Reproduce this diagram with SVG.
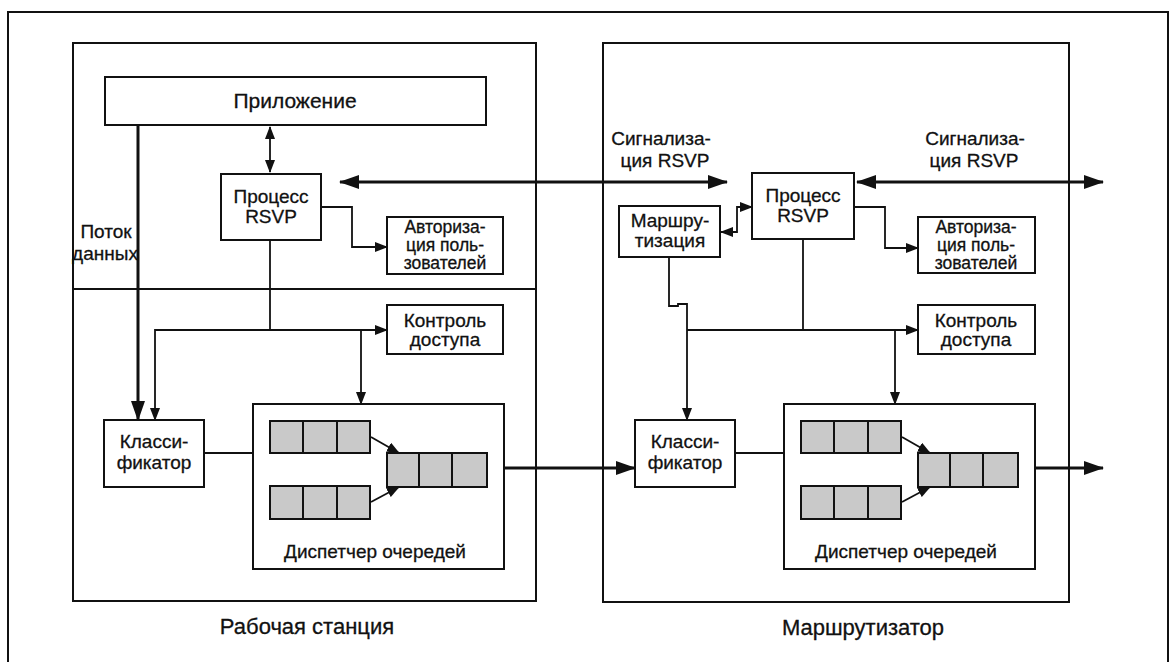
<svg xmlns="http://www.w3.org/2000/svg" width="1170" height="662" viewBox="0 0 1170 662">
<defs>
<style>
.box{fill:#fff;stroke:#111;stroke-width:2}
.frame{fill:none;stroke:#111;stroke-width:2}
.cell{fill:#c9c9c9;stroke:#111;stroke-width:2}
.t{font-family:"Liberation Sans",Arial,sans-serif;font-size:19px;fill:#111;stroke:#111;stroke-width:0.3;text-anchor:middle}
.sm3{font-size:17.5px}
.big{font-size:21px}
.lbl{font-size:22px}
.ln{fill:none;stroke:#111;stroke-width:1.8}
.thick{fill:none;stroke:#111;stroke-width:3}
.sa{marker-end:url(#sm)}
.ba{marker-end:url(#bg)}
</style>
<marker id="bg" markerUnits="userSpaceOnUse" markerWidth="20" markerHeight="14" refX="19" refY="7" orient="auto-start-reverse"><path d="M0,0 L20,7 L0,14 Z" fill="#111"/></marker>
<marker id="sm" markerUnits="userSpaceOnUse" markerWidth="13" markerHeight="10" refX="12" refY="5" orient="auto-start-reverse"><path d="M0,0 L13,5 L0,10 Z" fill="#111"/></marker>
</defs>
<rect x="0" y="0" width="1170" height="662" fill="#fff"/>
<rect class="frame" x="8" y="12" width="1160" height="680"/>

<g id="workstation">
<rect class="frame" x="73" y="43" width="463" height="558"/>
<line x1="73" y1="289" x2="536" y2="289" stroke="#111" stroke-width="2.2"/>
<text class="t lbl" x="307" y="634">Рабочая станция</text>
</g>
<g id="router">
<rect class="frame" x="603" y="43" width="466" height="559"/>
<text class="t lbl" x="863" y="635">Маршрутизатор</text>
</g>

<g id="ws-app"><rect class="box" x="105" y="77" width="381" height="48"/><text class="t big" x="295" y="108">Приложение</text></g>
<g id="ws-rsvp"><rect class="box" x="221" y="174" width="100" height="66"/><text class="t" x="271" y="203">Процесс</text><text class="t" x="271" y="223">RSVP</text></g>
<g id="ws-auth"><rect class="box" x="387" y="217" width="116" height="57"/><text class="t sm3" x="445" y="233">Авториза-</text><text class="t sm3" x="445" y="251">ция поль-</text><text class="t sm3" x="445" y="269">зователей</text></g>
<g id="ws-adm"><rect class="box" x="387" y="305" width="116" height="49"/><text class="t" x="445" y="327">Контроль</text><text class="t" x="445" y="346">доступа</text></g>
<g id="ws-class"><rect class="box" x="104" y="420" width="100" height="67"/><text class="t" x="154" y="448">Класси-</text><text class="t" x="154" y="469">фикатор</text></g>
<g id="ws-sched">
<rect class="box" x="253" y="404" width="251" height="165"/>
<rect class="cell" x="270" y="421" width="33" height="32"/><rect class="cell" x="303" y="421" width="34" height="32"/><rect class="cell" x="337" y="421" width="33" height="32"/>
<rect class="cell" x="270" y="486" width="33" height="33"/><rect class="cell" x="303" y="486" width="34" height="33"/><rect class="cell" x="337" y="486" width="33" height="33"/>
<rect class="cell" x="387" y="453" width="32" height="34"/><rect class="cell" x="419" y="453" width="33" height="34"/><rect class="cell" x="452" y="453" width="35" height="34"/>
<text class="t" x="375" y="558">Диспетчер очередей</text>
</g>
<g id="ws-flow-label"><text class="t" x="106" y="238">Поток</text><text class="t" x="105" y="260">данных</text></g>

<g id="r-sig1"><text class="t" x="661" y="145">Сигнализа-</text><text class="t" x="665" y="167">ция RSVP</text></g>
<g id="r-sig2"><text class="t" x="975" y="145">Сигнализа-</text><text class="t" x="974" y="167">ция RSVP</text></g>
<g id="r-route"><rect class="box" x="619" y="206" width="101" height="51"/><text class="t" x="670" y="227">Маршру-</text><text class="t" x="670" y="247">тизация</text></g>
<g id="r-rsvp"><rect class="box" x="752" y="173" width="102" height="66"/><text class="t" x="803" y="202">Процесс</text><text class="t" x="803" y="222">RSVP</text></g>
<g id="r-auth"><rect class="box" x="918" y="217" width="117" height="56"/><text class="t sm3" x="976" y="233">Авториза-</text><text class="t sm3" x="976" y="251">ция поль-</text><text class="t sm3" x="976" y="269">зователей</text></g>
<g id="r-adm"><rect class="box" x="918" y="305" width="117" height="49"/><text class="t" x="976" y="327">Контроль</text><text class="t" x="976" y="346">доступа</text></g>
<g id="r-class"><rect class="box" x="635" y="420" width="100" height="67"/><text class="t" x="685" y="448">Класси-</text><text class="t" x="685" y="469">фикатор</text></g>
<g id="r-sched">
<rect class="box" x="784" y="404" width="251" height="165"/>
<rect class="cell" x="801" y="421" width="33" height="32"/><rect class="cell" x="834" y="421" width="34" height="32"/><rect class="cell" x="868" y="421" width="33" height="32"/>
<rect class="cell" x="801" y="486" width="33" height="33"/><rect class="cell" x="834" y="486" width="34" height="33"/><rect class="cell" x="868" y="486" width="33" height="33"/>
<rect class="cell" x="918" y="453" width="32" height="34"/><rect class="cell" x="950" y="453" width="33" height="34"/><rect class="cell" x="983" y="453" width="35" height="34"/>
<text class="t" x="906" y="558">Диспетчер очередей</text>
</g>

<g id="connectors">
<path class="ln" d="M270,127 V172" marker-start="url(#sm)" marker-end="url(#sm)"/>
<path class="thick" d="M340,182 H727" marker-start="url(#bg)" marker-end="url(#bg)"/>
<path class="ln sa" d="M321,207 H352 V247 H387"/>
<path class="thick ba" d="M138,125 V420"/>
<path class="ln" d="M270,240 V330"/>
<path class="ln" d="M155,420 V330 H387" marker-start="url(#sm)" marker-end="url(#sm)"/>
<path class="ln sa" d="M361,330 V404"/>
<path class="ln" d="M204,453 H253" stroke-width="2.2"/>
<path class="ln sa" d="M371,437 L399,453"/>
<path class="ln sa" d="M371,502 L399,487"/>
<path class="thick ba" d="M504,468 H635"/>

<path class="thick" d="M857,182 H1103" marker-start="url(#bg)" marker-end="url(#bg)"/>
<path class="ln" d="M721,232 H737 V207 H752" marker-start="url(#sm)" marker-end="url(#sm)"/>
<path class="ln sa" d="M854,207 H885 V248 H918"/>
<path class="ln sa" d="M669,257 V306 H678 V304 H687 V420"/>
<path class="ln sa" d="M687,330 H918"/>
<path class="ln" d="M803,239 V330"/>
<path class="ln sa" d="M895,330 V404"/>
<path class="ln" d="M735,453 H784" stroke-width="2.2"/>
<path class="ln sa" d="M902,437 L930,453"/>
<path class="ln sa" d="M902,502 L930,487"/>
<path class="thick ba" d="M1035,468 H1103"/>
</g>
</svg>
